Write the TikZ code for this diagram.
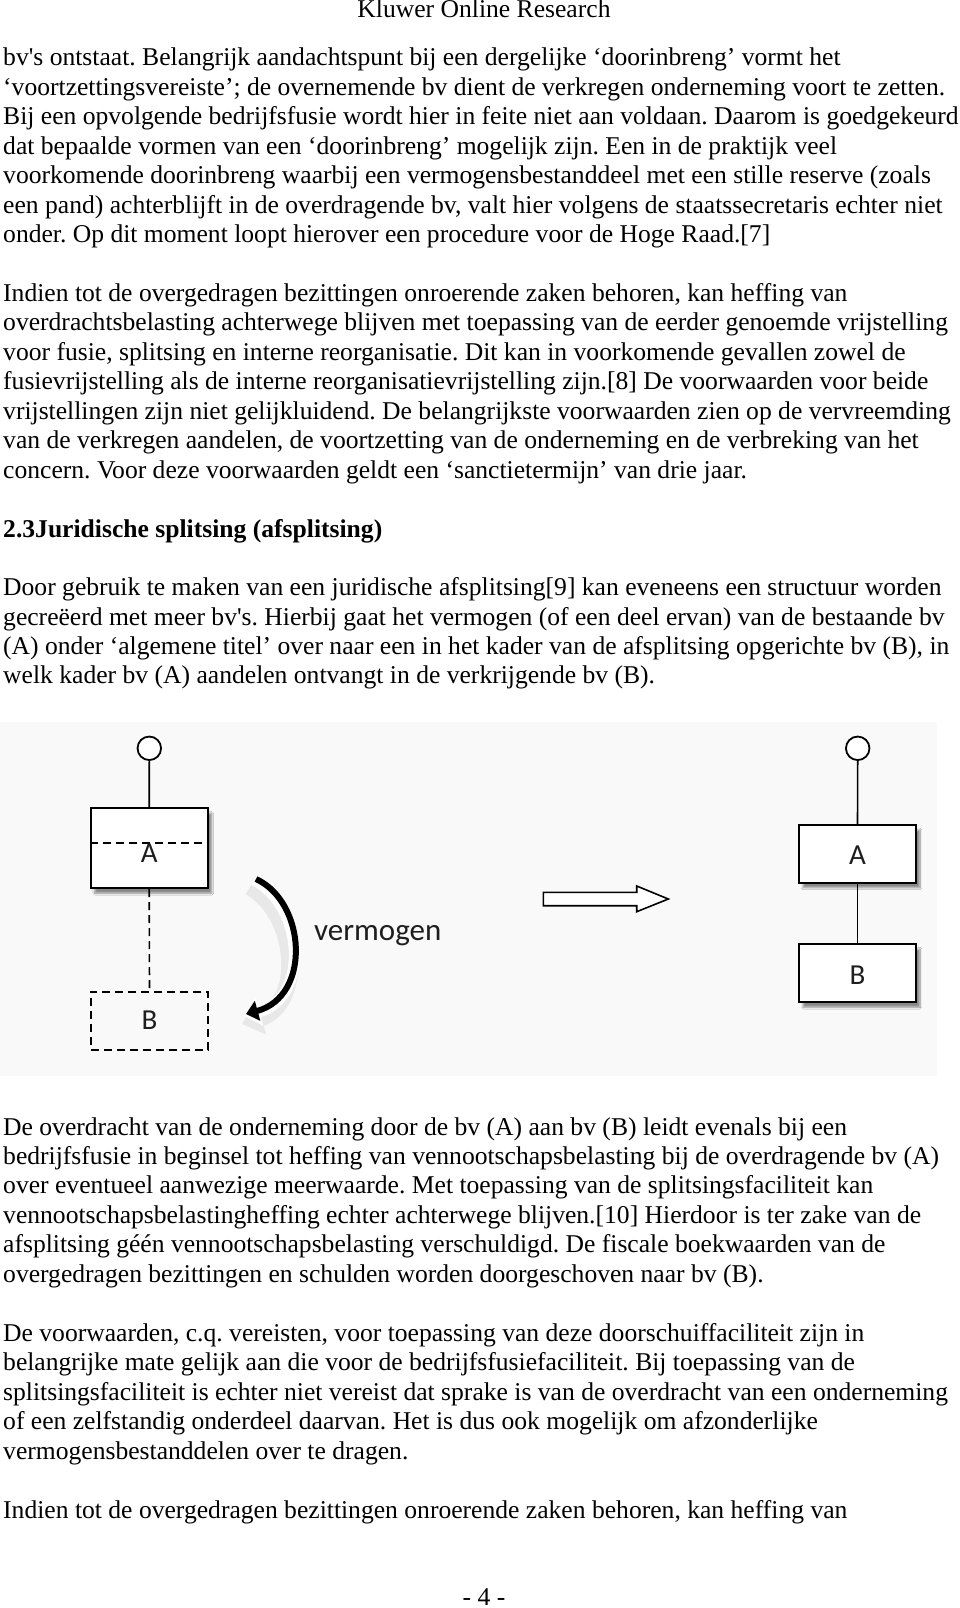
\documentclass[tikz,border=0pt]{standalone}
\usepackage{fontspec}
\setmainfont{Liberation Serif}[Ligatures=TeXOff]
\newfontfamily\diagfont{Carlito}
\usetikzlibrary{arrows.meta,shadows.blur}
\newcommand\bodyfont{\fontsize{25.6pt}{29.45pt}\selectfont}
\definecolor{diagbg}{RGB}{249,249,249}
\definecolor{labelc}{RGB}{30,30,30}
\frenchspacing
\tikzset{
  txt/.style={anchor=base west, inner sep=0pt, font=\bodyfont},
  ctxt/.style={anchor=base, inner sep=0pt, font=\bodyfont},
  boxa/.style={draw, line width=1.8pt, fill=white, minimum width=117pt, inner sep=0pt,
    blur shadow={shadow xshift=4pt, shadow yshift=-5pt, shadow blur steps=8, shadow opacity=45}},
  boxd/.style={draw, line width=1.8pt, dash pattern=on 8pt off 5pt, minimum width=117pt, inner sep=0pt},
  ring/.style={draw, circle, line width=1.8pt, fill=white, minimum size=23.5pt, inner sep=0pt},
  lbl/.style={inner sep=0pt, font=\diagfont\fontsize{29pt}{30pt}\selectfont, text=labelc},
  link/.style={line width=1.6pt}
}
\begin{document}
\begin{tikzpicture}[x=1pt,y=-1pt]
\useasboundingbox (0,0) rectangle (960,1608);
\fill[white] (0,0) rectangle (960,1608);

% header
\node[ctxt] (hdr) at (484,18) {Kluwer Online Research};

% paragraph 1
\node[txt] (p1a) at (3,66.0) {bv's ontstaat. Belangrijk aandachtspunt bij een dergelijke ‘doorinbreng’ vormt het};
\node[txt] (p1b) at (3,95.45) {‘voortzettingsvereiste’; de overnemende bv dient de verkregen onderneming voort te zetten.};
\node[txt] (p1c) at (3,124.9) {Bij een opvolgende bedrijfsfusie wordt hier in feite niet aan voldaan. Daarom is goedgekeurd};
\node[txt] (p1d) at (3,154.35) {dat bepaalde vormen van een ‘doorinbreng’ mogelijk zijn. Een in de praktijk veel};
\node[txt] (p1e) at (3,183.8) {voorkomende doorinbreng waarbij een vermogensbestanddeel met een stille reserve (zoals};
\node[txt] (p1f) at (3,213.25) {een pand) achterblijft in de overdragende bv, valt hier volgens de staatssecretaris echter niet};
\node[txt] (p1g) at (3,242.7) {onder. Op dit moment loopt hierover een procedure voor de Hoge Raad.[7]};

% paragraph 2
\node[txt] (p2a) at (3,301.3) {Indien tot de overgedragen bezittingen onroerende zaken behoren, kan heffing van};
\node[txt] (p2b) at (3,330.75) {overdrachtsbelasting achterwege blijven met toepassing van de eerder genoemde vrijstelling};
\node[txt] (p2c) at (3,360.2) {voor fusie, splitsing en interne reorganisatie. Dit kan in voorkomende gevallen zowel de};
\node[txt] (p2d) at (3,389.65) {fusievrijstelling als de interne reorganisatievrijstelling zijn.[8] De voorwaarden voor beide};
\node[txt] (p2e) at (3,419.1) {vrijstellingen zijn niet gelijkluidend. De belangrijkste voorwaarden zien op de vervreemding};
\node[txt] (p2f) at (3,448.55) {van de verkregen aandelen, de voortzetting van de onderneming en de verbreking van het};
\node[txt] (p2g) at (3,478.0) {concern. Voor deze voorwaarden geldt een ‘sanctietermijn’ van drie jaar.};

% heading
\node[txt, font=\bodyfont\bfseries] (h23) at (3,537.0) {2.3Juridische splitsing (afsplitsing)};

% paragraph 3
\node[txt] (p3a) at (3,595.6) {Door gebruik te maken van een juridische afsplitsing[9] kan eveneens een structuur worden};
\node[txt] (p3b) at (3,625.05) {gecreëerd met meer bv's. Hierbij gaat het vermogen (of een deel ervan) van de bestaande bv};
\node[txt] (p3c) at (3,654.5) {(A) onder ‘algemene titel’ over naar een in het kader van de afsplitsing opgerichte bv (B), in};
\node[txt] (p3d) at (3,683.95) {welk kader bv (A) aandelen ontvangt in de verkrijgende bv (B).};

% ---------------- diagram ----------------
\fill[diagbg] (0,722) rectangle (937,1076);

% left structure
\node[ring] (c1) at (149.3,748.3) {};
\node[boxa, minimum height=80pt] (A1) at (149.2,848.3) {};
\draw[link] (c1.south) -- (A1.north);
\draw[line width=1.8pt, dash pattern=on 8pt off 5pt] (A1.west |- 0,842.7) coordinate (dl) -- (A1.east |- 0,842.7) coordinate (dr);
\node[lbl] (A1t) at (149.3,853.3) {A};
\node[boxd, minimum height=58.3pt] (B1) at (149.5,1020.9) {};
\node[lbl] (B1t) at (149.5,1020.0) {B};
\draw[link, dash pattern=on 8pt off 5pt] (A1.south) -- (B1.north);

% curved arrow with halo
\coordinate (ca) at (256,879);
\coordinate (cb) at (246,1014);
\draw[line width=17pt, black!9, -{Triangle[length=20pt,width=34pt]}]
  ([shift={(-6,8)}]ca) .. controls (298,914) and (304,1004) .. ([shift={(-4,10)}]cb);
\draw[line width=11pt, white, -{Triangle[length=16pt,width=28pt]}]
  ([shift={(-2,1)}]ca) .. controls (304,906) and (310,998) .. ([shift={(-2,2)}]cb);
\draw[line width=6pt, black, -{Triangle[length=12pt,width=20pt]}]
  (ca) .. controls (306,902) and (312,996) .. (cb);
\node[anchor=base west, inner sep=0pt, font=\diagfont\fontsize{31pt}{32pt}\selectfont, text=labelc] (verm) at (314,940) {vermogen};

% hollow arrow
\draw[line width=1.6pt, fill=white, line join=miter]
  (543.3,892.3) -- (636.7,892.3) -- (636.7,886) -- (668.3,899) -- (636.7,911.7) -- (636.7,905.7) -- (543.3,905.7) -- cycle;

% right structure
\node[ring] (c2) at (857.7,748.3) {};
\node[boxa, minimum height=57.7pt] (A2) at (857.5,853.9) {};
\node[lbl] (A2t) at (857.5,855.0) {A};
\node[boxa, minimum height=58pt] (B2) at (857.5,973.3) {};
\node[lbl] (B2t) at (857.5,975.0) {B};
\draw[link] (c2.south) -- (A2.north);
\draw[link] (A2.south) -- (B2.north);

% paragraph 4
\node[txt] (p4a) at (3,1135.0) {De overdracht van de onderneming door de bv (A) aan bv (B) leidt evenals bij een};
\node[txt] (p4b) at (3,1164.45) {bedrijfsfusie in beginsel tot heffing van vennootschapsbelasting bij de overdragende bv (A)};
\node[txt] (p4c) at (3,1193.9) {over eventueel aanwezige meerwaarde. Met toepassing van de splitsingsfaciliteit kan};
\node[txt] (p4d) at (3,1223.35) {vennootschapsbelastingheffing echter achterwege blijven.[10] Hierdoor is ter zake van de};
\node[txt] (p4e) at (3,1252.8) {afsplitsing géén vennootschapsbelasting verschuldigd. De fiscale boekwaarden van de};
\node[txt] (p4f) at (3,1282.25) {overgedragen bezittingen en schulden worden doorgeschoven naar bv (B).};

% paragraph 5
\node[txt] (p5a) at (3,1341.2) {De voorwaarden, c.q. vereisten, voor toepassing van deze doorschuiffaciliteit zijn in};
\node[txt] (p5b) at (3,1370.65) {belangrijke mate gelijk aan die voor de bedrijfsfusiefaciliteit. Bij toepassing van de};
\node[txt] (p5c) at (3,1400.1) {splitsingsfaciliteit is echter niet vereist dat sprake is van de overdracht van een onderneming};
\node[txt] (p5d) at (3,1429.55) {of een zelfstandig onderdeel daarvan. Het is dus ook mogelijk om afzonderlijke};
\node[txt] (p5e) at (3,1459.0) {vermogensbestanddelen over te dragen.};

% paragraph 6
\node[txt] (p6a) at (3,1518.6) {Indien tot de overgedragen bezittingen onroerende zaken behoren, kan heffing van};

% page number
\node[ctxt] (pnum) at (484,1605) {- 4 -};
\end{tikzpicture}
\end{document}
